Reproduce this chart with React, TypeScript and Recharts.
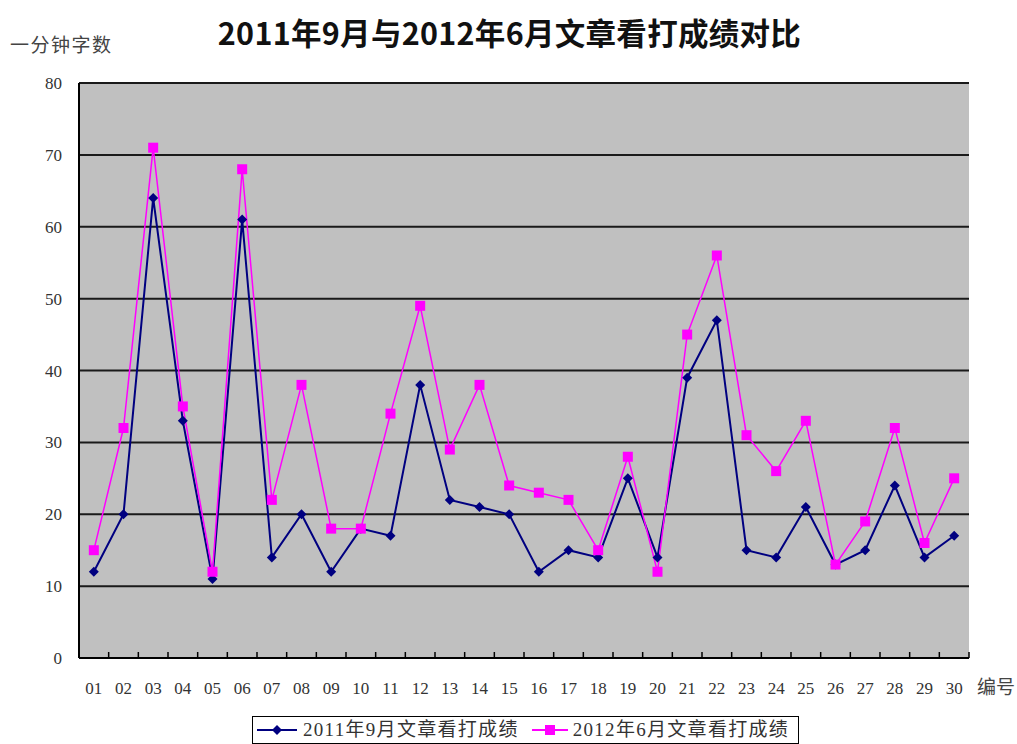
import React from "react";
import { LineChart, Line, XAxis, YAxis, CartesianGrid, Legend } from "recharts";

const categories = ["01", "02", "03", "04", "05", "06", "07", "08", "09", "10", "11", "12", "13", "14", "15", "16", "17", "18", "19", "20", "21", "22", "23", "24", "25", "26", "27", "28", "29", "30"];
const score2011 = [12, 20, 64, 33, 11, 61, 14, 20, 12, 18, 17, 38, 22, 21, 20, 12, 15, 14, 25, 14, 39, 47, 15, 14, 21, 13, 15, 24, 14, 17];
const score2012 = [15, 32, 71, 35, 12, 68, 22, 38, 18, 18, 34, 49, 29, 38, 24, 23, 22, 15, 28, 12, 45, 56, 31, 26, 33, 13, 19, 32, 16, 25];
const yTicks = [0, 10, 20, 30, 40, 50, 60, 70, 80];

const name2011 = "2011年9月文章看打成绩";
const name2012 = "2012年6月文章看打成绩";

const data = categories.map((no, i) => ({ no, s2011: score2011[i], s2012: score2012[i] }));

const W = 1017;
const H = 744;
const PLOT_LEFT = 79;
const PLOT_RIGHT = 969;
const PLOT_TOP = 83;
const PLOT_BOTTOM = 658;
const BAND = (PLOT_RIGHT - PLOT_LEFT) / categories.length;
const NAVY = "#000080";
const MAGENTA = "#ff00ff";
const serif = '"Liberation Serif", "Noto Sans CJK SC", serif';

const Diamond = (props: any) => {
  const { cx, cy } = props;
  if (cx == null || cy == null) return null;
  return <path d={`M${cx},${cy - 5}L${cx + 5},${cy}L${cx},${cy + 5}L${cx - 5},${cy}Z`} fill={NAVY} />;
};

const Square = (props: any) => {
  const { cx, cy } = props;
  if (cx == null || cy == null) return null;
  return <rect x={cx - 5} y={cy - 5} width={10} height={10} fill={MAGENTA} />;
};

const XTick = (props: any) => {
  const { x, y, payload, index } = props;
  const half = BAND / 2;
  return (
    <g>
      <line x1={x - half} x2={x - half} y1={PLOT_BOTTOM} y2={PLOT_BOTTOM - 6} stroke="#000" strokeWidth={1.5} />
      {index === categories.length - 1 && (
        <line x1={x + half} x2={x + half} y1={PLOT_BOTTOM} y2={PLOT_BOTTOM - 6} stroke="#000" strokeWidth={1.5} />
      )}
      <text x={x} y={y + 36} textAnchor="middle" fontSize={17} fontFamily={serif} fill="#333">
        {payload.value}
      </text>
    </g>
  );
};

const LegendBox = () => (
  <div
    style={{
      border: "1.5px solid #000",
      height: 28,
      boxSizing: "border-box",
      display: "flex",
      alignItems: "center",
      fontFamily: serif,
      fontSize: 19,
      letterSpacing: 1.3,
      lineHeight: "24px",
      color: "#333",
      background: "#fff",
      whiteSpace: "nowrap",
      overflow: "hidden",
    }}
  >
    <svg width={44} height={14} style={{ marginLeft: 2, flex: "none" }}>
      <line x1={2} x2={42} y1={7} y2={7} stroke={NAVY} strokeWidth={2} />
      <path d="M22,2L27,7L22,12L17,7Z" fill={NAVY} />
    </svg>
    <span style={{ marginLeft: 4 }}>{name2011}</span>
    <svg width={40} height={14} style={{ marginLeft: 11, flex: "none" }}>
      <line x1={2} x2={38} y1={7} y2={7} stroke={MAGENTA} strokeWidth={2} />
      <rect x={15} y={2} width={10} height={10} fill={MAGENTA} />
    </svg>
    <span style={{ marginLeft: 3 }}>{name2012}</span>
  </div>
);

export default function App() {
  return (
    <div style={{ position: "fixed", left: 0, top: 0, width: W, height: H, overflow: "hidden", background: "#fff" }}>
      <div
        style={{
          position: "absolute",
          left: 0,
          width: W,
          top: 12,
          textAlign: "center",
          fontFamily: '"Noto Sans CJK SC", sans-serif',
          fontWeight: 700,
          fontSize: 30.5,
          letterSpacing: 0.3,
          color: "#111",
          lineHeight: "40px",
        }}
      >
        <span style={{ position: "relative", left: 1 }}>2011年9月与2012年6月文章看打成绩对比</span>
      </div>
      <div
        style={{
          position: "absolute",
          left: 10,
          top: 33,
          fontFamily: serif,
          fontSize: 19,
          letterSpacing: 1.5,
          color: "#444",
          lineHeight: "26px",
        }}
      >
        一分钟字数
      </div>
      <LineChart
        width={W}
        height={H}
        data={data}
        margin={{ top: PLOT_TOP, right: W - PLOT_RIGHT, bottom: 18, left: PLOT_LEFT - 60 }}
      >
        <CartesianGrid vertical={false} fill="#c0c0c0" stroke="#1a1a1a" strokeWidth={2} />
        <XAxis
          dataKey="no"
          height={40}
          interval={0}
          tickSize={0}
          tickMargin={0}
          tickLine={false}
          axisLine={{ stroke: "#000", strokeWidth: 2 }}
          padding={{ left: BAND / 2, right: BAND / 2 }}
          tick={<XTick />}
          label={(p: any) => {
            const vb = p.viewBox || {};
            return (
              <text x={vb.x + vb.width + 8} y={vb.y + 36} fontSize={19} fontFamily={serif} fill="#444">
                编号
              </text>
            );
          }}
        />
        <XAxis xAxisId="top" orientation="top" dataKey="no" height={0} tick={false} tickLine={false} axisLine={{ stroke: "#808080", strokeWidth: 2 }} />
        <YAxis
          width={60}
          domain={[0, 80]}
          ticks={yTicks}
          interval={0}
          tickSize={0}
          tickMargin={17}
          tickLine={false}
          axisLine={{ stroke: "#000", strokeWidth: 2 }}
          tick={{ fontSize: 17, fontFamily: serif, fill: "#333" }}
        />
        <YAxis yAxisId="right" orientation="right" width={0} domain={[0, 80]} tick={false} tickLine={false} axisLine={{ stroke: "#808080", strokeWidth: 2 }} />
        <Legend
          verticalAlign="bottom"
          content={<LegendBox />}
          wrapperStyle={{ left: 252, width: 547, bottom: 0 }}
        />
        <Line
          dataKey="s2011"
          name={name2011}
          stroke={NAVY}
          strokeWidth={2}
          dot={<Diamond />}
          activeDot={false}
          isAnimationActive={false}
        />
        <Line
          dataKey="s2012"
          name={name2012}
          stroke={MAGENTA}
          strokeWidth={1.5}
          dot={<Square />}
          activeDot={false}
          isAnimationActive={false}
        />
      </LineChart>
    </div>
  );
}
